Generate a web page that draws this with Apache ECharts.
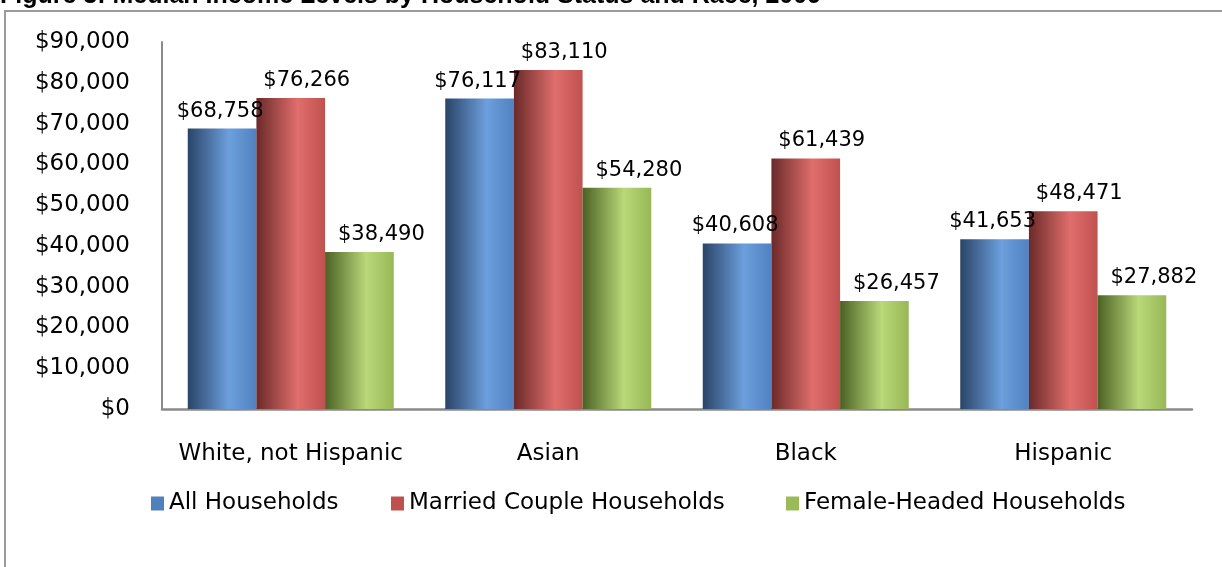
<!DOCTYPE html>
<html><head><meta charset="utf-8">
<script src="https://cdn.jsdelivr.net/npm/echarts@6/dist/echarts.min.js"></script>
<style>html,body{margin:0;padding:0;background:#fff;}#c{width:1222px;height:567px;}</style>
</head><body><div id="c"></div>
<script>
const titleText = 'Figure 3: Median Income Levels by Household Status and Race, 2009';
const categories = ['White, not Hispanic', 'Asian', 'Black', 'Hispanic'];
const seriesNames = ['All Households', 'Married Couple Households', 'Female-Headed Households'];
const allHouseholds = [68758, 76117, 40608, 41653];
const marriedCouple = [76266, 83110, 61439, 48471];
const femaleHeaded = [38490, 54280, 26457, 27882];
const yMin = 0, yMax = 90000, yStep = 10000;

const money = v => '$' + Number(v).toLocaleString('en-US');
const FONT = '"DejaVu Sans", sans-serif';

function grad(dark, light, mid) {
  return new echarts.graphic.LinearGradient(0, 0, 1, 0, [
    {offset: 0, color: dark},
    {offset: 0.6, color: light},
    {offset: 1, color: mid}
  ]);
}
const styles = [
  {fill: grad('#2a4467', '#6c9fdd', '#5181c0'), solid: '#4f81bd', dx: -2},
  {fill: grad('#6a2a29', '#e06e6c', '#bf514e'), solid: '#c0504d', dx: 16},
  {fill: grad('#4b6124', '#b9d879', '#98b857'), solid: '#9bbb59', dx: 22}
];
const seriesData = [allHouseholds, marriedCouple, femaleHeaded];
const legendLefts = [146, 386, 781];

const chart = echarts.init(document.getElementById('c'), null, {renderer: 'canvas'});
chart.setOption({
  animation: false,
  backgroundColor: '#fff',
  graphic: [
    {type: 'text', x: 0, y: 9, silent: true,
     style: {text: titleText, font: 'bold 25px "Liberation Sans", Arial, sans-serif', fill: '#000', verticalAlign: 'bottom'}},
    {type: 'rect', silent: true, shape: {x: 5, y: 11, width: 1400, height: 800},
     style: {fill: 'none', stroke: '#9a9a9a', lineWidth: 2}}
  ],
  legend: seriesNames.map((n, i) => ({
    left: legendLefts[i], top: 487, itemWidth: 13, itemHeight: 14, icon: 'rect',
    data: [{name: n, itemStyle: {color: styles[i].solid}}],
    textStyle: {fontFamily: FONT, fontSize: 23, color: '#000'}
  })),
  grid: {left: 162, right: 30, top: 42, bottom: 158, containLabel: false},
  xAxis: {
    type: 'category', data: categories,
    axisLine: {lineStyle: {color: '#8a8a8a', width: 2.5}},
    axisTick: {show: false},
    axisLabel: {interval: 0, fontFamily: FONT, fontSize: 23, color: '#000', margin: 34}
  },
  yAxis: {
    type: 'value', min: yMin, max: yMax, interval: yStep,
    splitLine: {show: false},
    axisLine: {show: true, lineStyle: {color: '#8a8a8a', width: 2}},
    axisTick: {show: false},
    axisLabel: {fontFamily: FONT, fontSize: 23, color: '#000', margin: 32, formatter: money}
  },
  series: seriesNames.map((n, i) => ({
    name: n, type: 'bar', data: seriesData[i],
    barGap: '0%', barCategoryGap: '20%',
    itemStyle: {color: styles[i].fill},
    label: {show: true, position: 'top', distance: 7, offset: [styles[i].dx, 0],
            fontFamily: FONT, fontSize: 21, color: '#000', formatter: p => money(p.value)}
  }))
});
</script></body></html>
